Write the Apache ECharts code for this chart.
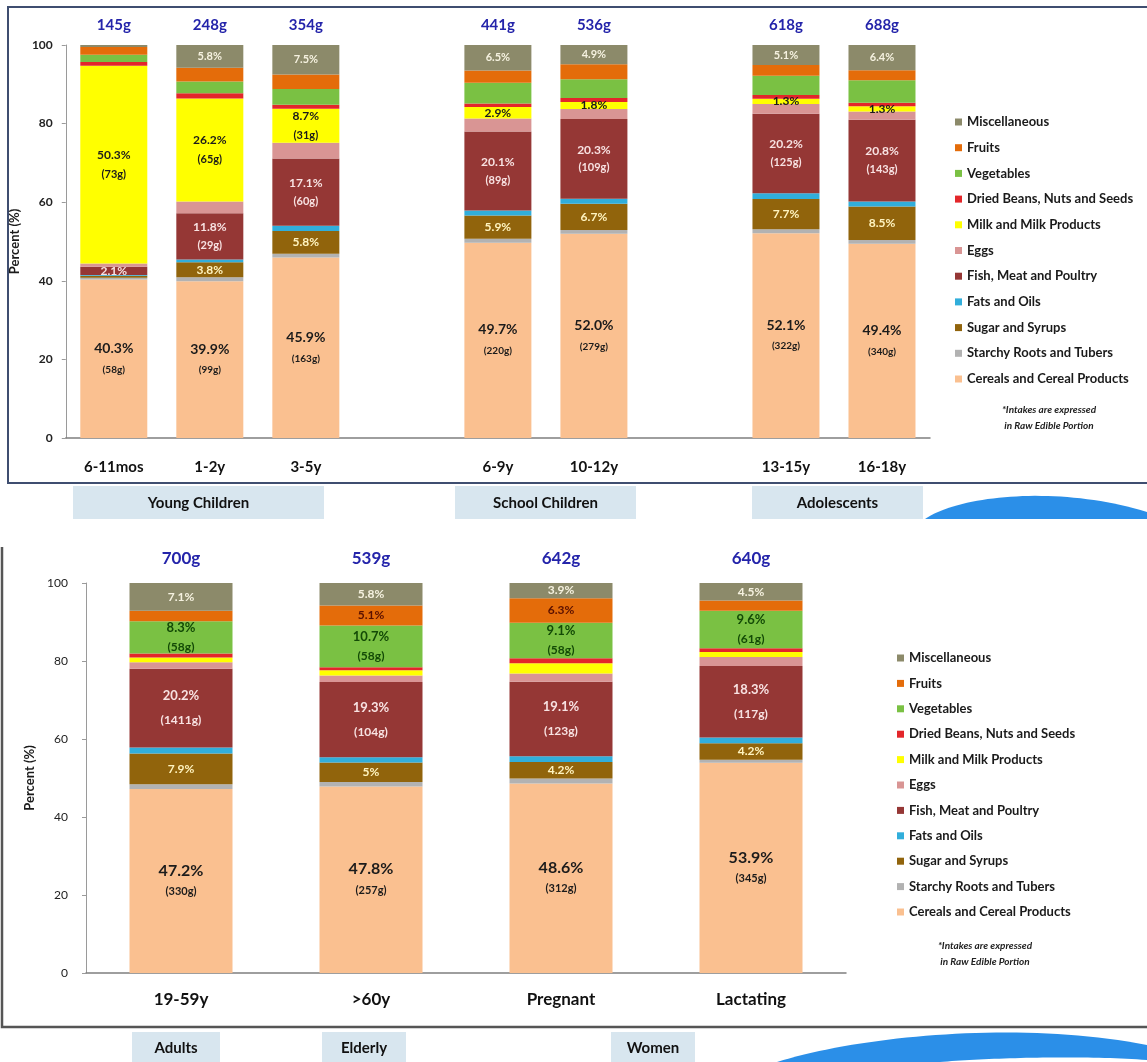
<!DOCTYPE html>
<html>
<head>
<meta charset="utf-8">
<title>Food intake by group</title>
<script src="https://cdn.jsdelivr.net/npm/echarts@6/dist/echarts.min.js"></script>
<style>
  html, body { margin: 0; padding: 0; background: #fff; }
  #chart { width: 1147px; height: 1062px; }
</style>
</head>
<body>
<div id="chart"></div>
<script>
// series names, bottom of the stack first
var seriesNames = ['Cereals and Cereal Products', 'Starchy Roots and Tubers', 'Sugar and Syrups', 'Fats and Oils',
    'Fish, Meat and Poultry', 'Eggs', 'Milk and Milk Products', 'Dried Beans, Nuts and Seeds',
    'Vegetables', 'Fruits', 'Miscellaneous'];
var colors = ['#fac090', '#b2b2b2', '#91640c', '#31aedb', '#953735', '#d99594', '#ffff00', '#e3262a',
    '#7ac143', '#e46c0a', '#8c8a6a'];

// top chart ('' = empty slot between groups)
var topCategories = ['6-11mos', '1-2y', '3-5y', '', '6-9y', '10-12y', '', '13-15y', '16-18y'];
var topTotals = ['145g', '248g', '354g', '441g', '536g', '618g', '688g'];
var topCereals = [40.3, 39.9, 45.9, 49.7, 52.0, 52.1, 49.4];
var topStarchy = [0.5, 1.0, 1.0, 1.0, 0.9, 1.0, 1.0];
var topSugar = [0.5, 3.8, 5.8, 5.9, 6.7, 7.7, 8.5];
var topFats = [0.2, 0.7, 1.3, 1.3, 1.3, 1.5, 1.3];
var topFish = [2.1, 11.8, 17.1, 20.1, 20.3, 20.2, 20.8];
var topEggs = [0.8, 3.0, 4.0, 3.3, 2.5, 2.5, 2.1];
var topMilk = [50.3, 26.2, 8.7, 2.9, 1.8, 1.3, 1.3];
var topBeans = [1.0, 1.3, 1.0, 0.9, 1.0, 1.0, 0.9];
var topVeg = [1.8, 3.0, 4.0, 5.3, 4.8, 4.9, 5.7];
var topFruits = [2.0, 3.5, 3.7, 3.1, 3.8, 2.7, 2.6];
var topMisc = [0.5, 5.8, 7.5, 6.5, 4.9, 5.1, 6.4];

var topCerealsLabel = ['40.3%\n(58g)', '39.9%\n(99g)', '45.9%\n(163g)', '49.7%\n(220g)', '52.0%\n(279g)', '52.1%\n(322g)', '49.4%\n(340g)'];
var topSugarLabel = ['', '3.8%', '5.8%', '5.9%', '6.7%', '7.7%', '8.5%'];
var topFishLabel = ['2.1%', '11.8%\n(29g)', '17.1%\n(60g)', '20.1%\n(89g)', '20.3%\n(109g)', '20.2%\n(125g)', '20.8%\n(143g)'];
var topMilkLabel = ['50.3%\n(73g)', '26.2%\n(65g)', '8.7%\n(31g)', '2.9%', '1.8%', '1.3%', '1.3%'];
var topMiscLabel = ['', '5.8%', '7.5%', '6.5%', '4.9%', '5.1%', '6.4%'];

// bottom chart
var bottomCategories = ['19-59y', '>60y', 'Pregnant', 'Lactating'];
var bottomTotals = ['700g', '539g', '642g', '640g'];
var bottomCereals = [47.2, 47.8, 48.6, 53.9];
var bottomStarchy = [1.2, 1.2, 1.3, 0.8];
var bottomSugar = [7.9, 5.0, 4.2, 4.2];
var bottomFats = [1.5, 1.3, 1.5, 1.5];
var bottomFish = [20.2, 19.3, 19.1, 18.3];
var bottomEggs = [1.7, 1.7, 2.1, 2.3];
var bottomMilk = [1.2, 1.3, 2.6, 1.3];
var bottomBeans = [1.0, 0.8, 1.3, 1.0];
var bottomVeg = [8.3, 10.7, 9.1, 9.6];
var bottomFruits = [2.7, 5.1, 6.3, 2.6];
var bottomMisc = [7.1, 5.8, 3.9, 4.5];

var bottomCerealsLabel = ['47.2%\n(330g)', '47.8%\n(257g)', '48.6%\n(312g)', '53.9%\n(345g)'];
var bottomSugarLabel = ['7.9%', '5%', '4.2%', '4.2%'];
var bottomFishLabel = ['20.2%\n(1411g)', '19.3%\n(104g)', '19.1%\n(123g)', '18.3%\n(117g)'];
var bottomVegLabel = ['8.3%\n(58g)', '10.7%\n(58g)', '9.1%\n(58g)', '9.6%\n(61g)'];
var bottomFruitsLabel = ['', '5.1%', '6.3%', ''];
var bottomMiscLabel = ['7.1%', '5.8%', '3.9%', '4.5%'];

var FONT = 'Lato, "Open Sans", sans-serif';

var topValues = [topCereals, topStarchy, topSugar, topFats, topFish, topEggs, topMilk, topBeans, topVeg, topFruits, topMisc];
var topLabels = [topCerealsLabel, null, topSugarLabel, null, topFishLabel, null, topMilkLabel, null, null, null, topMiscLabel];
var topStyles = [
    {color: '#1b1b1b', p: 14, g: 10, lh: 21},
    null,
    {color: '#fff4c0', p: 12},
    null,
    {color: '#f8e2e2', p: 12, g: 11, lh: 18},
    null,
    {color: '#1b1b1b', p: 12, g: 11, lh: 19},
    null, null, null,
    {color: '#f6f2e0', p: 11}
];

var bottomValues = [bottomCereals, bottomStarchy, bottomSugar, bottomFats, bottomFish, bottomEggs, bottomMilk, bottomBeans, bottomVeg, bottomFruits, bottomMisc];
var bottomLabels = [bottomCerealsLabel, null, bottomSugarLabel, null, bottomFishLabel, null, null, null, bottomVegLabel, bottomFruitsLabel, bottomMiscLabel];
var bottomStyles = [
    {color: '#1b1b1b', p: 16, g: 11, lh: 21},
    null,
    {color: '#fff4c0', p: 12},
    null,
    {color: '#f8e2e2', p: 13, g: 12, lh: 24},
    null, null, null,
    {color: '#134a06', p: 13, g: 12, lh: 20},
    {color: '#5a1000', p: 12},
    {color: '#f6f2e0', p: 12}
];

// put values into the non-empty category slots
function expand(categories, arr) {
    var i = 0;
    return categories.map(function (c) { return c === '' ? null : arr[i++]; });
}

function buildSeries(idx, categories, values, labels, styles, totals, barWidth, totalDist, totalSize) {
    var stack = 'stack' + idx;
    var out = seriesNames.map(function (name, i) {
        var s = {
            name: name,
            type: 'bar',
            stack: stack,
            xAxisIndex: idx,
            yAxisIndex: idx,
            barWidth: barWidth,
            itemStyle: {color: colors[i]},
            emphasis: {disabled: true},
            data: expand(categories, values[i]),
            label: {show: false}
        };
        if (labels[i]) {
            var lab = expand(categories, labels[i]);
            var st = styles[i];
            s.label = {
                show: true,
                position: 'inside',
                formatter: function (p) {
                    var t = lab[p.dataIndex];
                    if (!t) return '';
                    var parts = t.split('\n');
                    return parts.length > 1 ? '{p|' + parts[0] + '}\n{g|' + parts[1] + '}' : '{p|' + parts[0] + '}';
                },
                rich: {
                    p: {color: st.color, fontSize: st.p, fontWeight: 'bold', fontFamily: FONT, lineHeight: st.lh || st.p + 4},
                    g: {color: st.color, fontSize: st.g || 10, fontWeight: 'bold', fontFamily: FONT, lineHeight: st.lh || 14}
                }
            };
        }
        return s;
    });
    var tot = expand(categories, totals);
    out.push({
        name: 'total' + idx,
        type: 'bar',
        stack: stack,
        clip: false,
        xAxisIndex: idx,
        yAxisIndex: idx,
        barWidth: barWidth,
        itemStyle: {color: 'transparent'},
        emphasis: {disabled: true},
        data: tot.map(function (t) { return t === null ? null : 0; }),
        label: {
            show: true,
            position: 'top',
            distance: totalDist,
            formatter: function (p) { return tot[p.dataIndex] || ''; },
            color: '#2424aa',
            fontSize: totalSize,
            fontWeight: 'bold',
            fontFamily: FONT
        }
    });
    return out;
}

var legendOrder = seriesNames.slice().reverse();

function yAxis(idx, nameGap, labelBold) {
    return {
        gridIndex: idx,
        type: 'value',
        min: 0, max: 100, interval: 20,
        name: 'Percent (%)',
        nameLocation: 'middle',
        nameGap: nameGap,
        nameTextStyle: {fontSize: 13, fontWeight: 'bold', color: '#1a1a1a', fontFamily: FONT},
        splitLine: {show: false},
        axisLine: {show: true, lineStyle: {color: '#9a9a9a', width: 1}},
        axisTick: {show: true, length: 4, lineStyle: {color: '#9a9a9a'}},
        axisLabel: {fontSize: 12, fontWeight: labelBold ? 'bold' : 'normal', color: '#222', margin: labelBold ? 13 : 18, fontFamily: FONT}
    };
}

function xAxis(idx, data, size, margin) {
    return {
        gridIndex: idx,
        type: 'category',
        data: data,
        axisLine: {lineStyle: {color: '#7f7f7f', width: 1.5}},
        axisTick: {show: false},
        axisLabel: {fontSize: size, fontWeight: 'bold', color: '#111', margin: margin, fontFamily: FONT, interval: 0}
    };
}

function legend(left, top, gap) {
    return {
        data: legendOrder,
        orient: 'vertical',
        left: left,
        top: top,
        icon: 'rect',
        itemWidth: 7,
        itemHeight: 7,
        itemGap: gap,
        selectedMode: false,
        textStyle: {fontSize: 13, fontWeight: 'bold', color: '#1a1a1a', fontFamily: FONT, lineHeight: 14}
    };
}

function groupBox(x, y, w, h, text) {
    return [
        {type: 'rect', shape: {x: x, y: y, width: w, height: h}, style: {fill: '#d8e6ef'}, z: 1},
        {type: 'text', x: x + w / 2, y: y + h / 2 + 1, style: {text: text, font: 'bold 15px ' + FONT, fill: '#111', align: 'center', verticalAlign: 'middle'}, z: 2}
    ];
}

function note(x, y) {
    return [
        {type: 'text', x: x, y: y, style: {text: '*Intakes are expressed', font: 'italic bold 10px ' + FONT, fill: '#222', align: 'center', verticalAlign: 'middle'}},
        {type: 'text', x: x, y: y + 16, style: {text: 'in Raw Edible Portion', font: 'italic bold 10px ' + FONT, fill: '#222', align: 'center', verticalAlign: 'middle'}}
    ];
}

// decorative swoosh: cubic curve from p0 to p3, closed down to the baseline y
function swoosh(p0, c1, c2, p3, baseY, fill) {
    var pts = [];
    for (var k = 0; k <= 40; k++) {
        var t = k / 40, u = 1 - t;
        pts.push([
            u * u * u * p0[0] + 3 * u * u * t * c1[0] + 3 * u * t * t * c2[0] + t * t * t * p3[0],
            u * u * u * p0[1] + 3 * u * u * t * c1[1] + 3 * u * t * t * c2[1] + t * t * t * p3[1]
        ]);
    }
    pts.push([p3[0], baseY]);
    pts.push([p0[0], baseY]);
    return {type: 'polygon', shape: {points: pts}, style: {fill: fill}, z: 3};
}

var graphics = [
    {type: 'rect', shape: {x: 8, y: 7, width: 1160, height: 476}, style: {fill: 'none', stroke: '#3f4e70', lineWidth: 2}, z: 0},
    {type: 'polyline', shape: {points: [[2, 547], [2, 1027], [1160, 1027]]}, style: {fill: 'none', stroke: '#555', lineWidth: 2.5}, z: 0},
    swoosh([925, 519], [960, 495], [1060, 485], [1147, 512], 519, '#2b8fe8'),
    swoosh([777, 1062], [860, 1036], [1020, 1020], [1147, 1045], 1062, '#2b8fe8'),
    swoosh([940, 1062], [990, 1058], [1080, 1055], [1147, 1060], 1062, '#ffffff')
]
    .concat(groupBox(73, 486, 251, 33, 'Young Children'))
    .concat(groupBox(455, 486, 181, 33, 'School Children'))
    .concat(groupBox(752, 486, 171, 33, 'Adolescents'))
    .concat(groupBox(132, 1032, 88, 30, 'Adults'))
    .concat(groupBox(322, 1032, 84, 30, 'Elderly'))
    .concat(groupBox(611, 1032, 84, 30, 'Women'))
    .concat(note(1049, 410))
    .concat(note(985, 946));

var myChart = echarts.init(document.getElementById('chart'));

myChart.setOption({
    animation: false,
    textStyle: {fontFamily: FONT},
    grid: [
        {left: 63, right: 217, top: 45, bottom: 624},
        {left: 86, right: 301, top: 583, bottom: 89}
    ],
    xAxis: [
        xAxis(0, topCategories, 15, 22),
        xAxis(1, bottomCategories, 17, 18)
    ],
    yAxis: [
        yAxis(0, 34, true),
        yAxis(1, 41, false)
    ],
    legend: [
        legend(950, 110, 11.7),
        legend(892, 646, 11.4)
    ],
    graphic: graphics,
    series: buildSeries(0, topCategories, topValues, topLabels, topStyles, topTotals, 67, 12, 15)
        .concat(buildSeries(1, bottomCategories, bottomValues, bottomLabels, bottomStyles, bottomTotals, 103, 16, 17))
});
</script>
</body>
</html>
